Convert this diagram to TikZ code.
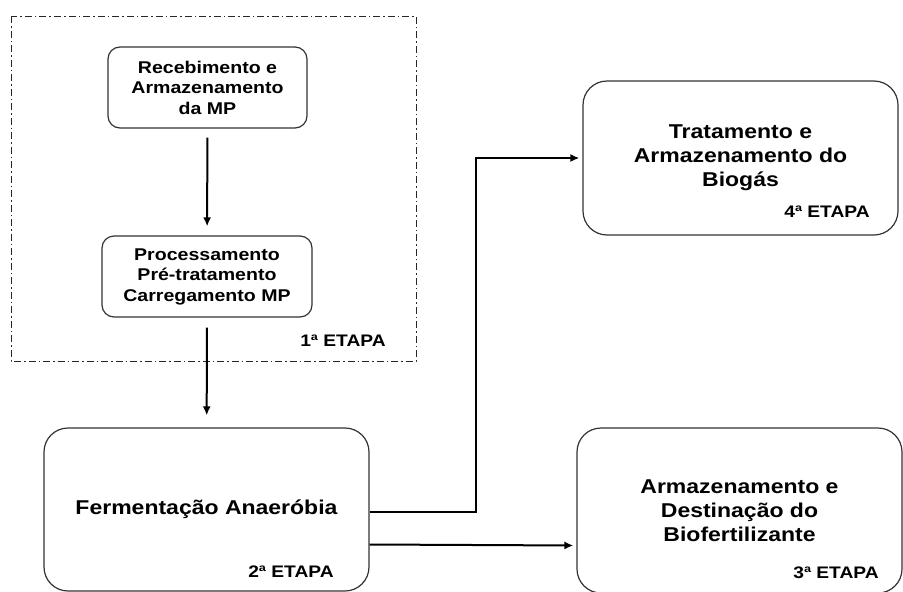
\documentclass[tikz,border=0pt]{standalone}
\usepackage{fontspec}
\setmainfont{Liberation Sans}[FakeStretch=1.15]
\usepackage{tikz}
\usetikzlibrary{arrows.meta,shapes}
\tikzstyle{stage}=[draw=black!80,line width=1.2pt,rounded corners=12pt,align=center,inner sep=0pt,font=\bfseries\fontsize{17}{20.5}\selectfont]
\tikzstyle{big stage}=[stage,rounded corners=24pt,font=\bfseries\fontsize{20}{24}\selectfont]
\tikzstyle{etapa}=[inner sep=0pt,font=\bfseries\fontsize{16.7}{20}\selectfont]
\tikzstyle{frame}=[draw=black!85,line width=0.8pt,dash pattern=on 7pt off 3pt on 1.5pt off 3pt]
\tikzstyle{edge} = [draw,line width=2pt,-{Latex[length=9pt,width=8pt]}]

\begin{document}
\begin{tikzpicture}[x=1pt,y=-1pt]
        \useasboundingbox (0,0) rectangle (903,592);
        \draw[frame] (11,16) rectangle (416,361);
        \node[stage,minimum width=199pt,minimum height=81pt] (recebe) at (207.5,87.5) {Recebimento e\\Armazenamento\\da MP};
        \node[stage,minimum width=210pt,minimum height=81pt] (processa) at (207,276.5) {Processamento\\Pré-tratamento\\Carregamento MP};
        \node[etapa] (e1) at (343,341) {1ª ETAPA};
        \node[big stage,minimum width=325pt,minimum height=163pt] (ferment) at (206.5,509.5) {Fermentação Anaeróbia};
        \node[etapa] (e2) at (291,572) {2ª ETAPA};
        \node[big stage,minimum width=315pt,minimum height=154pt] (biogas) at (740.5,158) {Tratamento e\\Armazenamento do\\Biogás};
        \node[etapa] (e4) at (827,212) {4ª ETAPA};
        \node[big stage,minimum width=325pt,minimum height=165pt] (biofert) at (739.5,510.5) {Armazenamento e\\Destinação do\\Biofertilizante};
        \node[etapa] (e3) at (836,573) {3ª ETAPA};
        \draw[edge,shorten <=9pt,shorten >=9pt] (recebe) to (processa);
        \draw[edge,shorten <=10pt,shorten >=12pt] (processa) to (ferment);
        \draw[edge,shorten >=3pt] ([yshift=-2.5pt]ferment.east) -- ++(106,0) |- (biogas.west);
        \draw[edge,shorten >=3pt] ([yshift=-35pt]ferment.east) to ([yshift=-35pt]biofert.west);
      \end{tikzpicture}
\end{document}
